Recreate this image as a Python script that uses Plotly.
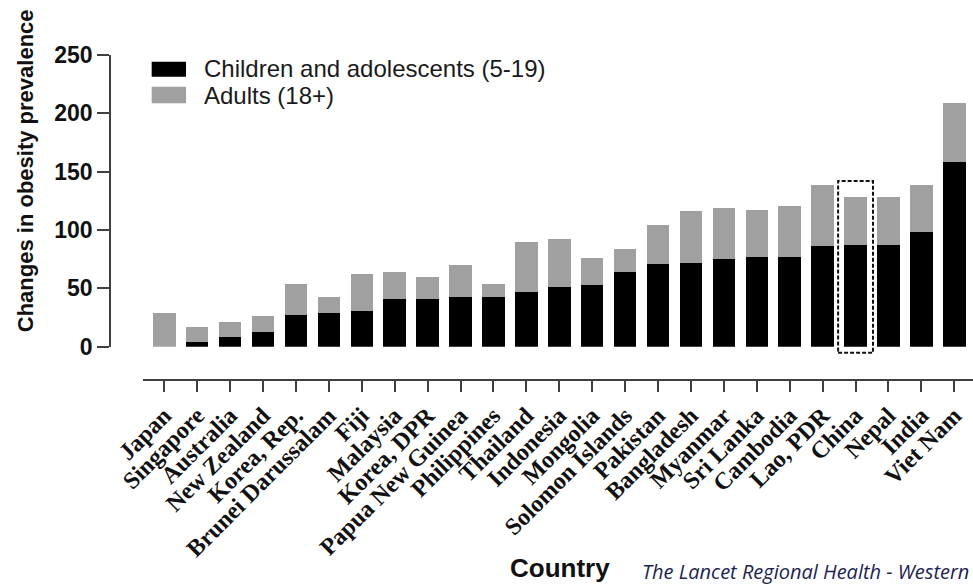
import plotly.graph_objects as go

# Change in obesity prevalence by country (children vs adults), stacked
countries = [
    "Japan", "Singapore", "Australia", "New Zealand", "Korea, Rep.",
    "Brunei Darussalam", "Fiji", "Malaysia", "Korea, DPR", "Papua New Guinea",
    "Philippines", "Thailand", "Indonesia", "Mongolia", "Solomon Islands",
    "Pakistan", "Bangladesh", "Myanmar", "Sri Lanka", "Cambodia",
    "Lao, PDR", "China", "Nepal", "India", "Viet Nam",
]
children = [0, 4, 8, 13, 27, 29, 31, 41, 41, 43, 43, 47, 51, 53, 64,
            71, 72, 75, 76.5, 76.5, 86.5, 87.5, 87.5, 98.5, 158.5]
adults = [29, 12.5, 13.5, 13, 27, 14, 31, 23, 19, 27, 11, 43, 41, 23, 20,
          33, 44, 44, 40.5, 44.5, 52, 41, 41, 40, 50.5]
y_ticks = [0, 50, 100, 150, 200, 250]
highlight = "China"

BLACK = "#000000"
GREY = "#a0a0a0"
AXIS = "#404040"
SANS = "Liberation Sans, Arial, sans-serif"
SERIF = "Liberation Serif, Times New Roman, serif"

x_dom = (0.0382, 1.0)
y_dom = (0.1025, 1.0)
x_rng = (-0.647, 24.568)
y_rng = (0, 250)


def px(xv):
    return x_dom[0] + (xv - x_rng[0]) / (x_rng[1] - x_rng[0]) * (x_dom[1] - x_dom[0])


def py(yv):
    return y_dom[0] + (yv - y_rng[0]) / (y_rng[1] - y_rng[0]) * (y_dom[1] - y_dom[0])


fig = go.Figure()
fig.add_trace(go.Bar(x=countries, y=children, name="Children and adolescents (5-19)",
                     marker=dict(color=BLACK, line=dict(width=0))))
fig.add_trace(go.Bar(x=countries, y=adults, name="Adults (18+)",
                     marker=dict(color=GREY, line=dict(width=0))))

# dashed box around the highlighted country
hi = countries.index(highlight)
hi_top = children[hi] + adults[hi]
shapes = [dict(type="rect", xref="paper", yref="paper",
               x0=px(hi - 0.53), x1=px(hi + 0.53),
               y0=py(-5.2), y1=py(hi_top + 13.5),
               line=dict(color="#111111", width=2, dash="4px,2px"))]

# legend swatches
shapes += [
    dict(type="rect", xref="paper", yref="paper", x0=0.0483, x1=0.0881,
         y0=0.9332, y1=0.9794, fillcolor=BLACK, line=dict(width=0)),
    dict(type="rect", xref="paper", yref="paper", x0=0.0483, x1=0.0881,
         y0=0.8514, y1=0.9025, fillcolor=GREY, line=dict(width=0)),
]

annotations = [
    dict(text="Children and adolescents (5-19)", x=0.1065, y=0.957, xref="paper", yref="paper",
         xanchor="left", yanchor="middle", showarrow=False,
         font=dict(family=SANS, size=24, color="#1a1a1a")),
    dict(text="Adults (18+)", x=0.1065, y=0.874, xref="paper", yref="paper",
         xanchor="left", yanchor="middle", showarrow=False,
         font=dict(family=SANS, size=24, color="#1a1a1a")),
    dict(text="Changes in obesity prevalence", x=-0.0975, y=0.645, xref="paper", yref="paper",
         xanchor="center", yanchor="middle", textangle=-90, showarrow=False,
         font=dict(family=SANS, size=22, color="#111111", weight="bold")),
    dict(text="Country", x=0.5214, y=-0.578, xref="paper", yref="paper",
         xanchor="center", yanchor="middle", showarrow=False,
         font=dict(family=SANS, size=26, color="#111111", weight="bold")),
    dict(text="<i>The Lancet Regional Health - Western</i>", x=0.614, y=-0.59,
         xref="paper", yref="paper", xanchor="left", yanchor="middle", showarrow=False,
         font=dict(family="Open Sans, sans-serif", size=20, color="#1c2450")),
]

fig.update_layout(
    width=973, height=587,
    margin=dict(l=110, r=0, t=55, b=207),
    paper_bgcolor="white", plot_bgcolor="white",
    barmode="stack", bargap=0.316, showlegend=False,
    shapes=shapes, annotations=annotations,
    xaxis=dict(domain=list(x_dom), range=list(x_rng), anchor="free", position=0,
               showline=True, linewidth=2, linecolor=AXIS,
               ticks="outside", ticklen=11, tickwidth=1.5, tickcolor=AXIS,
               tickangle=-45, showgrid=False, zeroline=False,
               tickfont=dict(family=SERIF, size=24, color="#111111", weight="bold")),
    yaxis=dict(domain=list(y_dom), range=list(y_rng), anchor="free", position=0,
               showline=True, linewidth=1.5, linecolor=AXIS,
               ticks="outside", ticklen=12, tickwidth=1.5, tickcolor=AXIS,
               tickvals=y_ticks, showgrid=False, zeroline=False,
               tickfont=dict(family=SANS, size=23, color="#111111", weight="bold")),
)

fig.write_html("out.html")
